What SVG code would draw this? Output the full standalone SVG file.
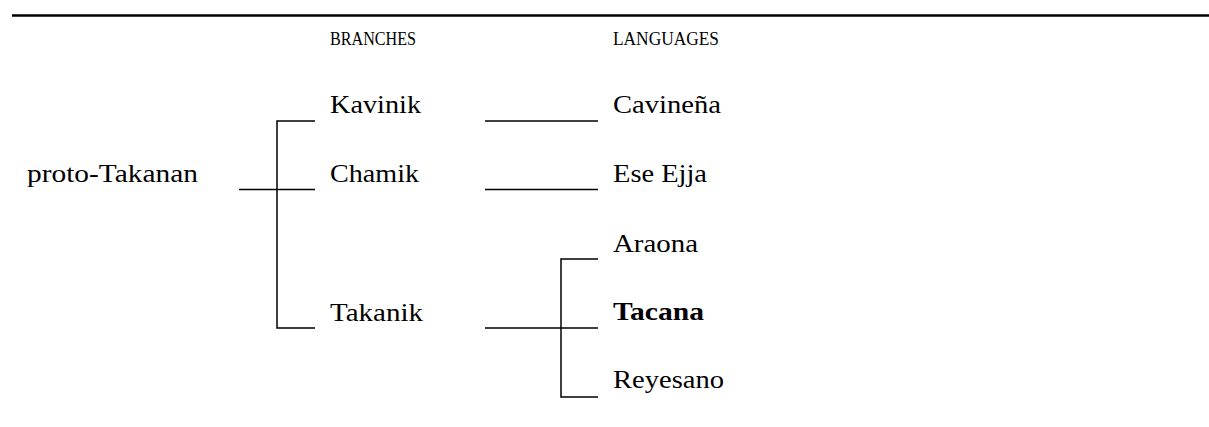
<svg xmlns="http://www.w3.org/2000/svg" width="1209" height="427" viewBox="0 0 1209 427">
<style>
text{font-family:"Liberation Serif","Times New Roman",serif;fill:#000;}
.n{font-size:26px;}
.h{font-size:18px;}
.b{font-weight:bold;}
.ln{stroke:#000;stroke-width:1.5;fill:none;stroke-linecap:butt;}
</style>
<rect width="1209" height="427" fill="#fff"/>
<line x1="12" y1="15.5" x2="1209" y2="15.5" stroke="#000" stroke-width="2.5"/>
<g id="headers">
<text class="h" x="330" y="45" textLength="86" lengthAdjust="spacingAndGlyphs">BRANCHES</text>
<text class="h" x="613" y="45" textLength="106" lengthAdjust="spacingAndGlyphs">LANGUAGES</text>
</g>
<g id="proto-takanan"><text class="n" x="27" y="182" textLength="171" lengthAdjust="spacingAndGlyphs">proto-Takanan</text></g>
<g id="kavinik"><text class="n" x="330" y="113" textLength="91" lengthAdjust="spacingAndGlyphs">Kavinik</text></g>
<g id="chamik"><text class="n" x="330" y="182" textLength="89" lengthAdjust="spacingAndGlyphs">Chamik</text></g>
<g id="takanik"><text class="n" x="330" y="321" textLength="93" lengthAdjust="spacingAndGlyphs">Takanik</text></g>
<g id="cavinena"><text class="n" x="613" y="113" textLength="108" lengthAdjust="spacingAndGlyphs">Cavineña</text></g>
<g id="ese-ejja"><text class="n" x="613" y="182" textLength="94" lengthAdjust="spacingAndGlyphs">Ese Ejja</text></g>
<g id="araona"><text class="n" x="613" y="252" textLength="85" lengthAdjust="spacingAndGlyphs">Araona</text></g>
<g id="tacana"><text class="n b" x="613" y="320" textLength="91" lengthAdjust="spacingAndGlyphs">Tacana</text></g>
<g id="reyesano"><text class="n" x="613" y="388" textLength="111" lengthAdjust="spacingAndGlyphs">Reyesano</text></g>
<g id="connectors">
<path class="ln" d="M239,189.5 H315"/>
<path class="ln" d="M315,121 H277 V328 H315"/>
<path class="ln" d="M485,121 H598"/>
<path class="ln" d="M485,189.5 H598"/>
<path class="ln" d="M485,328 H598"/>
<path class="ln" d="M598,259 H561 V397 H598"/>
</g>
</svg>
